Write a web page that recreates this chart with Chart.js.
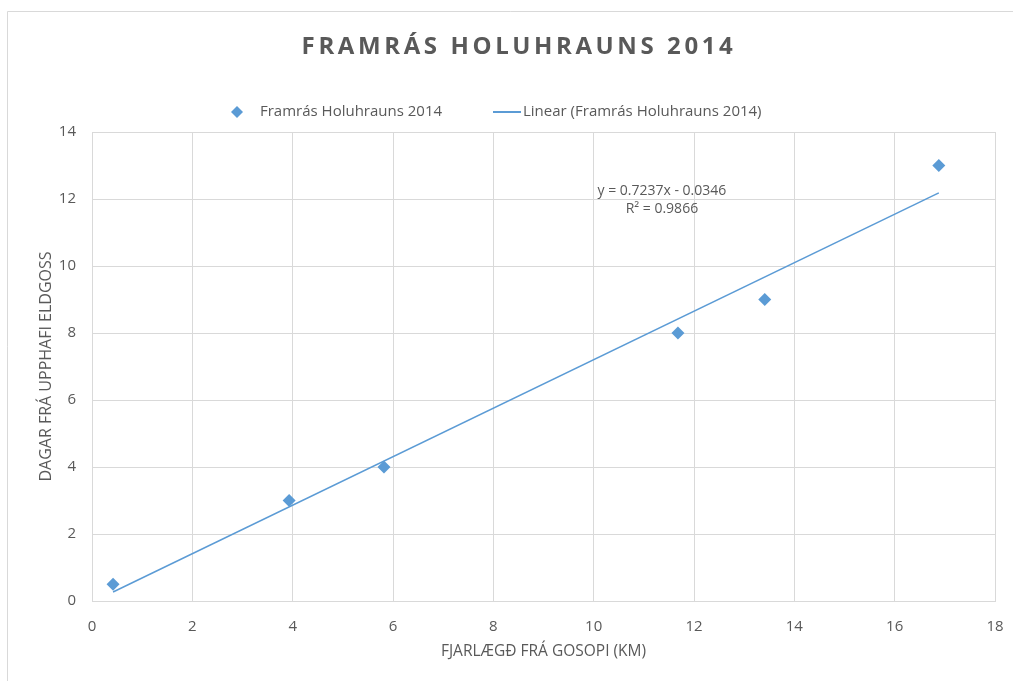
<!DOCTYPE html>
<html lang="is">

<head>
    <meta charset="UTF-8">
    <title>Framrás Holuhrauns 2014</title>
    <script src="https://cdn.jsdelivr.net/npm/chart.js@4.4.0/dist/chart.umd.min.js"></script>
    <style>
        body { margin: 0; background: #fff; }
    </style>
</head>

<body>

    <canvas id="myChart" width="1013" height="681"></canvas>

    <script type="text/javascript">

        // mælingar: fjarlægð frá gosopi (km) og dagar frá upphafi eldgoss
        const distanceKm = [0.42, 3.93, 5.82, 11.68, 13.41, 16.88];
        const daysSinceStart = [0.5, 3, 4, 8, 9, 13];

        // línuleg aðhvarfsgreining (úr Excel)
        const slope = 0.7237;
        const intercept = -0.0346;
        const rSquared = 0.9866;

        const chartTitle = 'FRAMRÁS HOLUHRAUNS 2014';
        const seriesLabel = 'Framrás Holuhrauns 2014';
        const trendLabel = 'Linear (Framrás Holuhrauns 2014)';
        const xTitle = 'FJARLÆGÐ FRÁ GOSOPI (KM)';
        const yTitle = 'DAGAR FRÁ UPPHAFI ELDGOSS';

        const blue = '#5b9bd5';
        const grey = '#595959';
        const gridGrey = '#d9d9d9';
        const font = '"Open Sans", "Liberation Sans", sans-serif';

        const points = distanceKm.map((x, i) => ({ x: x, y: daysSinceStart[i] }));
        const xMin = Math.min(...distanceKm);
        const xMax = Math.max(...distanceKm);
        const trend = [xMin, xMax].map(x => ({ x: x, y: slope * x + intercept }));

        // rammi, titill, skýringar og jafna
        const decorations = {
            id: 'decorations',
            beforeDraw(chart) {
                const ctx = chart.ctx;
                ctx.save();
                ctx.fillStyle = '#fff';
                ctx.fillRect(0, 0, chart.width, chart.height);
                ctx.strokeStyle = gridGrey;
                ctx.lineWidth = 1;
                ctx.beginPath();
                ctx.moveTo(7.5, chart.height);
                ctx.lineTo(7.5, 11.5);
                ctx.lineTo(chart.width, 11.5);
                ctx.stroke();
                ctx.restore();
            },
            afterDraw(chart) {
                const ctx = chart.ctx;
                ctx.save();

                ctx.fillStyle = grey;
                ctx.textAlign = 'center';
                ctx.textBaseline = 'middle';
                ctx.letterSpacing = '3.6px';
                ctx.font = 'bold 24px ' + font;
                ctx.fillText(chartTitle, 519, 47);
                ctx.letterSpacing = '0px';

                // skýringar
                const ly = 112;
                ctx.fillStyle = blue;
                ctx.beginPath();
                ctx.moveTo(231, ly);
                ctx.lineTo(237, ly - 6);
                ctx.lineTo(243, ly);
                ctx.lineTo(237, ly + 6);
                ctx.closePath();
                ctx.fill();

                ctx.strokeStyle = blue;
                ctx.lineWidth = 2;
                ctx.beginPath();
                ctx.moveTo(493, ly);
                ctx.lineTo(521, ly);
                ctx.stroke();

                ctx.fillStyle = grey;
                ctx.textAlign = 'left';
                ctx.font = '15px ' + font;
                ctx.fillText(seriesLabel, 260, ly);
                ctx.fillText(trendLabel, 523, ly);

                // jafna bestu línu
                const xs = chart.scales.x;
                const ys = chart.scales.y;
                const ex = xs.getPixelForValue(11.36);
                const ey = ys.getPixelForValue(12.25);
                ctx.textAlign = 'center';
                ctx.font = '14px ' + font;
                ctx.fillText('y = ' + slope + 'x - ' + Math.abs(intercept), ex, ey);
                ctx.fillText('R² = ' + rSquared, ex, ey + 18);

                ctx.restore();
            }
        };

        const ctx = document.getElementById('myChart').getContext('2d');
        const myChart = new Chart(ctx, {
            type: 'scatter',
            data: {
                datasets: [{
                    label: seriesLabel,
                    data: points,
                    pointStyle: 'rectRot',
                    pointRadius: 6.5,
                    pointHoverRadius: 6.5,
                    backgroundColor: blue,
                    borderColor: blue,
                    borderWidth: 0
                },
                {
                    label: trendLabel,
                    type: 'line',
                    data: trend,
                    showLine: true,
                    pointRadius: 0,
                    borderColor: blue,
                    borderWidth: 1.5,
                    fill: false
                }]
            },
            options: {
                responsive: false,
                animation: false,
                layout: {
                    padding: { top: 132, left: 8, right: 18, bottom: 10 }
                },
                plugins: {
                    legend: { display: false },
                    title: { display: false },
                    tooltip: { enabled: false }
                },
                scales: {
                    x: {
                        type: 'linear',
                        min: 0,
                        max: 18,
                        ticks: {
                            stepSize: 2,
                            padding: 17,
                            color: grey,
                            font: { family: font, size: 15 }
                        },
                        grid: { color: gridGrey, drawTicks: false },
                        border: { color: gridGrey },
                        title: {
                            display: true,
                            text: xTitle,
                            color: grey,
                            font: { family: font, size: 15.5 },
                            padding: { top: 0, bottom: 10 }
                        },
                        afterFit(scale) {
                            scale.height = 70;
                            scale.paddingLeft = 0;
                            scale.paddingRight = 0;
                        }
                    },
                    y: {
                        min: 0,
                        max: 14,
                        ticks: {
                            stepSize: 2,
                            padding: 16,
                            color: grey,
                            font: { family: font, size: 15 }
                        },
                        grid: { color: gridGrey, drawTicks: false },
                        border: { color: gridGrey },
                        title: {
                            display: true,
                            text: yTitle,
                            color: grey,
                            font: { family: font, size: 16 },
                            padding: { top: 29, bottom: 0 }
                        },
                        afterFit(scale) {
                            scale.width = 84;
                            scale.paddingTop = 0;
                            scale.paddingBottom = 0;
                        }
                    }
                }
            },
            plugins: [decorations]
        });

    </script>
</body>

</html>
